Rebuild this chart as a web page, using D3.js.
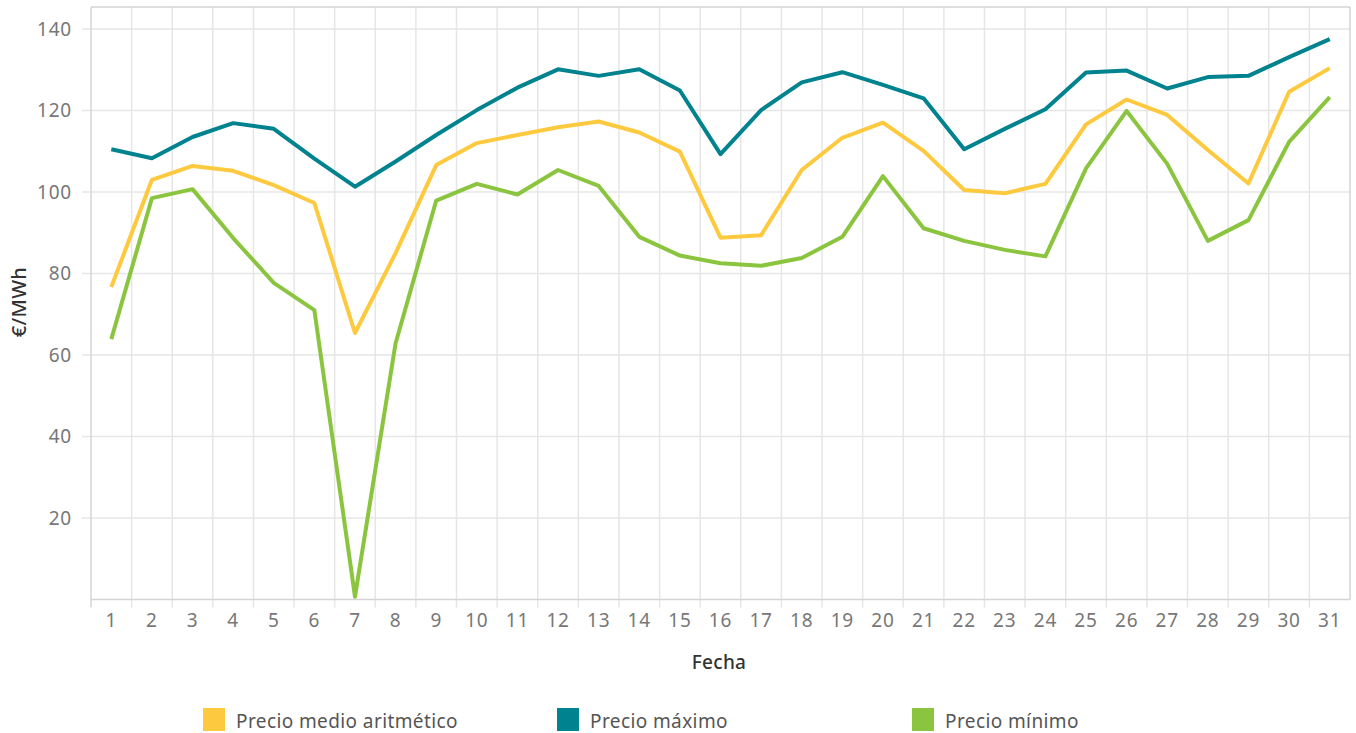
<!DOCTYPE html>
<html>
<head>
<meta charset="utf-8">
<script src="https://cdn.jsdelivr.net/npm/d3@7"></script>
<style>
  html, body { margin: 0; padding: 0; background: #fff; }
  svg { display: block; }
</style>
</head>
<body>
<svg id="chart" width="1356" height="733"></svg>
<script>
const days = d3.range(1, 32).map(String);
const precioMedio = [76.7, 103.0, 106.4, 105.2, 101.7, 97.3, 65.4, 85.0, 106.6, 112.0, 114.0, 115.9, 117.3, 114.6, 109.9, 88.8, 89.4, 105.4, 113.3, 117.0, 110.1, 100.5, 99.7, 102.0, 116.6, 122.7, 118.9, 110.3, 102.1, 124.6, 130.4];
const precioMaximo = [110.5, 108.3, 113.5, 116.9, 115.5, 108.2, 101.3, 107.5, 114.0, 120.1, 125.6, 130.1, 128.5, 130.1, 124.9, 109.3, 120.1, 126.9, 129.4, 126.3, 123.0, 110.5, 115.5, 120.3, 129.3, 129.8, 125.4, 128.2, 128.5, 133.1, 137.5];
const precioMinimo = [63.9, 98.5, 100.7, 88.7, 77.7, 71.0, 0.7, 62.9, 97.9, 102.0, 99.4, 105.4, 101.5, 89.0, 84.4, 82.5, 81.9, 83.8, 89.0, 103.9, 91.1, 88.0, 85.8, 84.2, 105.8, 119.9, 106.9, 88.0, 93.1, 112.3, 123.3];
const yTicks = [20, 40, 60, 80, 100, 120, 140];
const seriesNames = ["Precio medio aritmético", "Precio máximo", "Precio mínimo"];
const seriesColors = ["#fdc93f", "#00838f", "#8bc53f"];

(function () {
const svg = d3.select("#chart");
const pLeft = 91, pRight = 1350, pTop = 7, pBottom = 599.5;
const font = "'Noto Sans', 'Open Sans', sans-serif";

const x = d3.scaleBand().domain(days).range([pLeft, pRight]).paddingInner(0).paddingOuter(0);
const y = d3.scaleLinear().domain([0, 145.4]).range([pBottom, pTop]);

// gridlines
const g = svg.append("g");
g.selectAll("line.hg").data(yTicks).join("line")
  .attr("x1", pLeft - 9).attr("x2", pRight)
  .attr("y1", d => y(d)).attr("y2", d => y(d))
  .attr("stroke", "#e6e6e6").attr("stroke-width", 1.5);
const bounds = days.slice(1).map(d => x(d));
g.selectAll("line.vg").data(bounds).join("line")
  .attr("x1", d => d).attr("x2", d => d)
  .attr("y1", pTop).attr("y2", pBottom + 8)
  .attr("stroke", "#e6e6e6").attr("stroke-width", 1.5);

// frame
const frameColor = "#d4d4d4";
svg.append("line").attr("x1", pLeft).attr("x2", pRight).attr("y1", pTop).attr("y2", pTop).attr("stroke", frameColor).attr("stroke-width", 1.5);
svg.append("line").attr("x1", pRight).attr("x2", pRight).attr("y1", pTop).attr("y2", pBottom).attr("stroke", frameColor).attr("stroke-width", 1.5);
svg.append("line").attr("x1", pLeft).attr("x2", pLeft).attr("y1", pTop).attr("y2", pBottom + 8).attr("stroke", frameColor).attr("stroke-width", 1.5);
svg.append("line").attr("x1", pLeft).attr("x2", pRight).attr("y1", pBottom).attr("y2", pBottom).attr("stroke", frameColor).attr("stroke-width", 1.5);

// y axis
const yAxis = d3.axisLeft(y).tickValues(yTicks).tickSize(0).tickPadding(10);
const ya = svg.append("g").attr("transform", `translate(${pLeft},0)`).call(yAxis);
ya.select(".domain").remove();
ya.selectAll("text").attr("font-family", font).attr("font-size", 19).attr("letter-spacing", 0.8)
  .attr("fill", "#777").attr("dx", -9);

// x axis
const xAxis = d3.axisBottom(x).tickSize(0).tickPadding(14);
const xa = svg.append("g").attr("transform", `translate(0,${pBottom})`).call(xAxis);
xa.select(".domain").remove();
xa.selectAll("text").attr("font-family", font).attr("font-size", 19).attr("letter-spacing", 0.8).attr("fill", "#777");

// titles
svg.append("text").attr("x", 719).attr("y", 669).attr("text-anchor", "middle")
  .attr("font-family", font).attr("font-size", 19).attr("font-weight", 500).attr("letter-spacing", 0.3).attr("fill", "#333").text("Fecha");
svg.append("text").attr("transform", "translate(26,302) rotate(-90)").attr("text-anchor", "middle")
  .attr("font-family", font).attr("font-size", 20).attr("font-weight", 500).attr("letter-spacing", 0.3).attr("fill", "#333").text("€/MWh");

// lines
const allSeries = [precioMedio, precioMaximo, precioMinimo];
const line = d3.line().x((d, i) => x(days[i]) + x.bandwidth() / 2).y(d => y(d));
const drawOrder = [2, 0, 1];
drawOrder.forEach(k => {
  svg.append("path").datum(allSeries[k])
    .attr("d", line).attr("fill", "none")
    .attr("stroke", seriesColors[k]).attr("stroke-width", 4)
    .attr("stroke-linejoin", "round").attr("stroke-linecap", "butt");
});

// legend
const legendX = [203, 557, 912];
const lg = svg.append("g");
seriesNames.forEach((name, i) => {
  lg.append("rect").attr("x", legendX[i]).attr("y", 708).attr("width", 22).attr("height", 23).attr("fill", seriesColors[i]);
  lg.append("text").attr("x", legendX[i] + 33).attr("y", 728)
    .attr("font-family", font).attr("font-size", 19).attr("letter-spacing", 0.4).attr("fill", "#555").text(name);
});
})();
</script>
</body>
</html>
